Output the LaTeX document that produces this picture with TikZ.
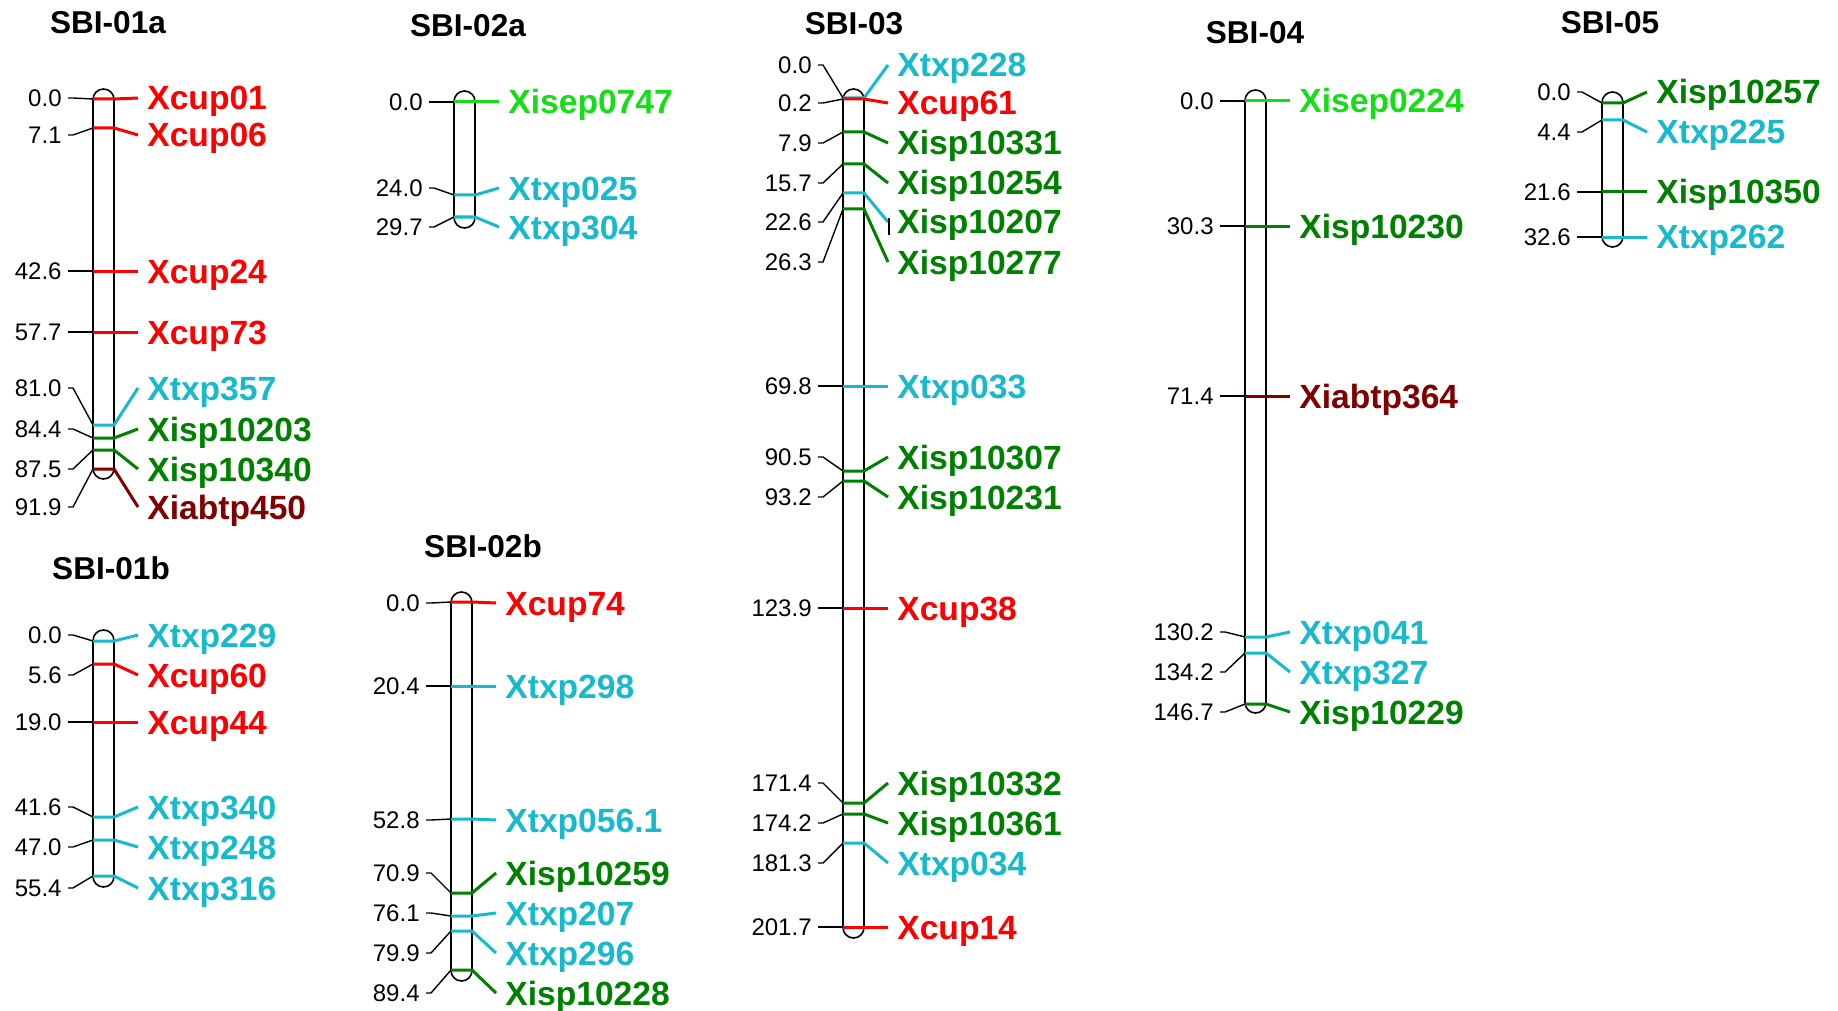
\documentclass[tikz,border=0pt]{standalone}
\usepackage{fontspec}
\setmainfont{Liberation Sans}
\definecolor{cupred}{RGB}{255,0,0}
\definecolor{txpcyan}{RGB}{22,186,202}
\definecolor{ispgreen}{RGB}{0,128,0}
\definecolor{isepgreen}{RGB}{22,222,22}
\definecolor{abtpred}{RGB}{128,0,0}

\begin{document}
\begin{tikzpicture}[x=0.5pt, y=-0.5pt,
    chrom/.style={draw=black, line width=0.8pt, rounded corners=5.25pt},
    dist/.style={anchor=east, inner sep=0pt, text height=8.6pt, text depth=0pt, font=\fontsize{12}{12}\selectfont},
    locus/.style={anchor=west, inner sep=0pt, text height=12pt, text depth=0pt, font=\bfseries\fontsize{16.8}{16.8}\selectfont},
    lg/.style={inner sep=0pt, text height=11.3pt, text depth=0pt, font=\bfseries\fontsize{15.8}{15.8}\selectfont},
    tick/.style={line width=0.7pt, black},
    band/.style={line width=1.5pt}]

    \useasboundingbox (0,0) rectangle (1838,1011);

    % SBI-01a
    \begin{scope}[shift={(93,0)}]
        \node[lg] (a-t) at (15,22) {SBI-01a};
        \draw[chrom] (0,89) rectangle (21,479);
        \foreach \c/\my/\ly/\lab/\col [count=\i] in {0.0/99/98/Xcup01/cupred, 7.1/128/135/Xcup06/cupred,
                42.6/271/271/Xcup24/cupred, 57.7/332/332/Xcup73/cupred, 81.0/425/388/Xtxp357/txpcyan,
                84.4/438/429/Xisp10203/ispgreen, 87.5/450/469/Xisp10340/ispgreen, 91.9/469/507/Xiabtp450/abtpred}{
            \coordinate (a-l\i) at (0,\my);
            \coordinate (a-r\i) at (21,\my);
            \node[dist] (a-n\i) at (-31,\ly) {\c};
            \node[locus, text=\col] (a-m\i) at (54,\ly) {\lab};
            \draw[tick] ([xshift=3pt]a-n\i.east) -- ++(2.5pt,0) -- (a-l\i);
            \draw[band, draw=\col] (a-l\i) -- (a-r\i) -- ([xshift=-4.5pt]a-m\i.west);
        }
    \end{scope}

    % SBI-01b
    \begin{scope}[shift={(93,0)}]
        \node[lg] (b-t) at (18,568) {SBI-01b};
        \draw[chrom] (0,630) rectangle (21,887);
        \foreach \c/\my/\ly/\lab/\col [count=\i] in {0.0/641/635/Xtxp229/txpcyan, 5.6/664/675/Xcup60/cupred,
                19.0/722/722/Xcup44/cupred, 41.6/817/807/Xtxp340/txpcyan, 47.0/840/847/Xtxp248/txpcyan,
                55.4/876/888/Xtxp316/txpcyan}{
            \coordinate (b-l\i) at (0,\my);
            \coordinate (b-r\i) at (21,\my);
            \node[dist] (b-n\i) at (-31,\ly) {\c};
            \node[locus, text=\col] (b-m\i) at (54,\ly) {\lab};
            \draw[tick] ([xshift=3pt]b-n\i.east) -- ++(2.5pt,0) -- (b-l\i);
            \draw[band, draw=\col] (b-l\i) -- (b-r\i) -- ([xshift=-4.5pt]b-m\i.west);
        }
    \end{scope}

    % SBI-02a
    \begin{scope}[shift={(454,0)}]
        \node[lg] (c-t) at (14,25) {SBI-02a};
        \draw[chrom] (0,91) rectangle (21,228);
        \foreach \c/\my/\ly/\lab/\col [count=\i] in {0.0/102/102/Xisep0747/isepgreen,
                24.0/195/188/Xtxp025/txpcyan, 29.7/217/227/Xtxp304/txpcyan}{
            \coordinate (c-l\i) at (0,\my);
            \coordinate (c-r\i) at (21,\my);
            \node[dist] (c-n\i) at (-31,\ly) {\c};
            \node[locus, text=\col] (c-m\i) at (54,\ly) {\lab};
            \draw[tick] ([xshift=3pt]c-n\i.east) -- ++(2.5pt,0) -- (c-l\i);
            \draw[band, draw=\col] (c-l\i) -- (c-r\i) -- ([xshift=-4.5pt]c-m\i.west);
        }
    \end{scope}

    % SBI-02b
    \begin{scope}[shift={(451,0)}]
        \node[lg] (d-t) at (32,546) {SBI-02b};
        \draw[chrom] (0,592) rectangle (21,981);
        \foreach \c/\my/\ly/\lab/\col [count=\i] in {0.0/602/603/Xcup74/cupred, 20.4/686/686/Xtxp298/txpcyan,
                52.8/819/820/Xtxp056.1/txpcyan, 70.9/893/873/Xisp10259/ispgreen, 76.1/916/913/Xtxp207/txpcyan,
                79.9/931/953/Xtxp296/txpcyan, 89.4/970/993/Xisp10228/ispgreen}{
            \coordinate (d-l\i) at (0,\my);
            \coordinate (d-r\i) at (21,\my);
            \node[dist] (d-n\i) at (-31,\ly) {\c};
            \node[locus, text=\col] (d-m\i) at (54,\ly) {\lab};
            \draw[tick] ([xshift=3pt]d-n\i.east) -- ++(2.5pt,0) -- (d-l\i);
            \draw[band, draw=\col] (d-l\i) -- (d-r\i) -- ([xshift=-4.5pt]d-m\i.west);
        }
    \end{scope}

    % SBI-03 (band colour and label colour kept apart)
    \begin{scope}[shift={(843,0)}]
        \node[lg] (e-t) at (11,23) {SBI-03};
        \draw[chrom] (0,89) rectangle (21,938);
        \foreach \c/\my/\ly/\lab/\tc/\lc [count=\i] in {0.0/98/65/Xtxp228/txpcyan/txpcyan,
                0.2/99/103/Xcup61/cupred/cupred, 7.9/132/143/Xisp10331/ispgreen/ispgreen,
                15.7/164/183/Xisp10254/ispgreen/ispgreen, 22.6/193/222/Xisp10207/ispgreen/txpcyan,
                26.3/209/262/Xisp10277/ispgreen/ispgreen, 69.8/386/386/Xtxp033/txpcyan/txpcyan,
                90.5/471/457/Xisp10307/ispgreen/ispgreen, 93.2/481/497/Xisp10231/ispgreen/ispgreen,
                123.9/608/608/Xcup38/cupred/cupred, 171.4/803/783/Xisp10332/ispgreen/ispgreen,
                174.2/814/823/Xisp10361/ispgreen/ispgreen, 181.3/843/863/Xtxp034/txpcyan/txpcyan,
                201.7/927/927/Xcup14/cupred/cupred}{
            \coordinate (e-l\i) at (0,\my);
            \coordinate (e-r\i) at (21,\my);
            \node[dist] (e-n\i) at (-31,\ly) {\c};
            \node[locus, text=\tc] (e-m\i) at (54,\ly) {\lab};
            \draw[tick] ([xshift=3pt]e-n\i.east) -- ++(2.5pt,0) -- (e-l\i);
            \draw[band, draw=\lc] (e-l\i) -- (e-r\i) -- ([xshift=-4.5pt]e-m\i.west);
        }
        \draw[tick] ([xshift=-4pt]e-m5.west) ++(0,-4) -- ++(0,17);
    \end{scope}

    % SBI-04
    \begin{scope}[shift={(1245,0)}]
        \node[lg] (f-t) at (10,32) {SBI-04};
        \draw[chrom] (0,90) rectangle (21,713);
        \foreach \c/\my/\ly/\lab/\col [count=\i] in {0.0/101/101/Xisep0224/isepgreen,
                30.3/226/226/Xisp10230/ispgreen, 71.4/396/396/Xiabtp364/abtpred, 130.2/637/632/Xtxp041/txpcyan,
                134.2/653/672/Xtxp327/txpcyan, 146.7/704/712/Xisp10229/ispgreen}{
            \coordinate (f-l\i) at (0,\my);
            \coordinate (f-r\i) at (21,\my);
            \node[dist] (f-n\i) at (-31,\ly) {\c};
            \node[locus, text=\col] (f-m\i) at (54,\ly) {\lab};
            \draw[tick] ([xshift=3pt]f-n\i.east) -- ++(2.5pt,0) -- (f-l\i);
            \draw[band, draw=\col] (f-l\i) -- (f-r\i) -- ([xshift=-4.5pt]f-m\i.west);
        }
    \end{scope}

    % SBI-05
    \begin{scope}[shift={(1602,0)}]
        \node[lg] (g-t) at (8,22) {SBI-05};
        \draw[chrom] (0,92) rectangle (21,247);
        \foreach \c/\my/\ly/\lab/\col [count=\i] in {0.0/103/92/Xisp10257/ispgreen,
                4.4/120/132/Xtxp225/txpcyan, 21.6/192/192/Xisp10350/ispgreen, 32.6/237/237/Xtxp262/txpcyan}{
            \coordinate (g-l\i) at (0,\my);
            \coordinate (g-r\i) at (21,\my);
            \node[dist] (g-n\i) at (-31,\ly) {\c};
            \node[locus, text=\col] (g-m\i) at (54,\ly) {\lab};
            \draw[tick] ([xshift=3pt]g-n\i.east) -- ++(2.5pt,0) -- (g-l\i);
            \draw[band, draw=\col] (g-l\i) -- (g-r\i) -- ([xshift=-4.5pt]g-m\i.west);
        }
    \end{scope}
\end{tikzpicture}
\end{document}
